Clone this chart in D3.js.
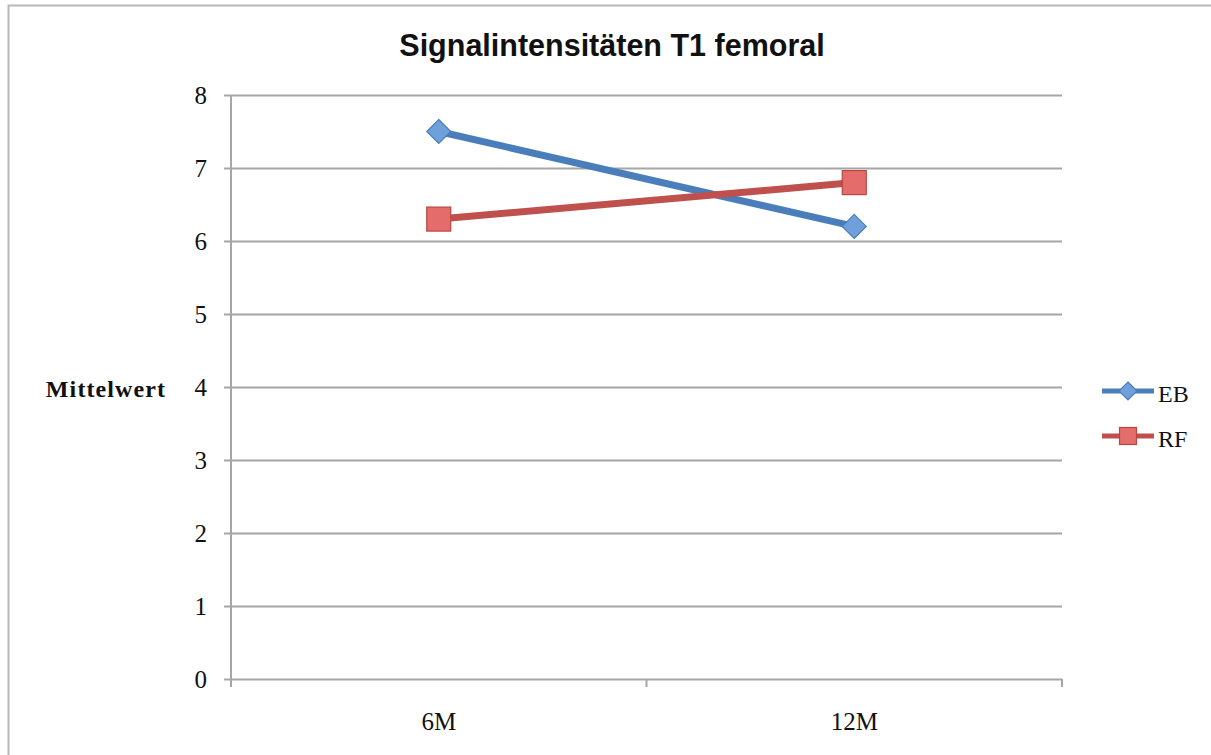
<!DOCTYPE html>
<html>
<head>
<meta charset="utf-8">
<script src="https://cdn.jsdelivr.net/npm/d3@7"></script>
<style>
  html, body { margin: 0; padding: 0; background: #fff; }
  svg { display: block; }
</style>
</head>
<body>
<svg id="chart" width="1211" height="755"></svg>
<script>
// Chart data
const categories = ["6M", "12M"];
const seriesNames = ["EB", "RF"];
const ebValues = [7.5, 6.2];
const rfValues = [6.3, 6.8];
const yTicks = [0, 1, 2, 3, 4, 5, 6, 7, 8];

const series = [
  { name: seriesNames[0], values: ebValues, color: "#4a7ebb", fill: "#6fa0dc", stroke: "#4a7ebb", shape: "diamond" },
  { name: seriesNames[1], values: rfValues, color: "#c0504d", fill: "#e46c6a", stroke: "#b94643", shape: "square" }
];

const serif = "'Liberation Serif', 'DejaVu Serif', serif";

const svg = d3.select("#chart");
const W = 1211, H = 755;
const plot = { left: 231, right: 1062, top: 95, bottom: 679 };

// Outer frame
svg.append("rect")
  .attr("x", 8.5).attr("y", 5.5)
  .attr("width", W + 10).attr("height", H + 10)
  .attr("fill", "none").attr("stroke", "#b8b8b8").attr("stroke-width", 2);

const x = d3.scaleBand().domain(categories).range([plot.left, plot.right]);
const y = d3.scaleLinear().domain([0, 8]).range([plot.bottom, plot.top]);

// Gridlines
svg.append("g")
  .selectAll("line")
  .data(yTicks)
  .join("line")
  .attr("x1", plot.left).attr("x2", plot.right)
  .attr("y1", d => Math.round(y(d)) + 0.5).attr("y2", d => Math.round(y(d)) + 0.5)
  .attr("stroke", "#a6a6a6").attr("stroke-width", 2);

// Y axis
const yAxis = svg.append("g")
  .attr("transform", `translate(${plot.left},0)`)
  .call(d3.axisLeft(y).tickValues(yTicks).tickSize(7).tickPadding(17).tickFormat(d3.format("d")));
yAxis.select(".domain").attr("stroke", "#a6a6a6").attr("stroke-width", 2).attr("d", `M0,${plot.top}V${plot.bottom}`);
yAxis.selectAll(".tick line").attr("stroke", "#a6a6a6").attr("stroke-width", 2);
yAxis.selectAll("text")
  .attr("font-family", serif)
  .attr("font-size", 25).attr("fill", "#111");

// X axis
const xAxis = svg.append("g")
  .attr("transform", `translate(0,${plot.bottom})`)
  .call(d3.axisBottom(x).tickSize(0).tickPadding(33));
xAxis.select(".domain").remove();
xAxis.selectAll("text")
  .attr("font-family", serif)
  .attr("font-size", 25).attr("fill", "#111");

// Category boundary ticks on the x axis
const boundaries = [plot.left, ...categories.map(c => x(c) + x.bandwidth())];
svg.append("g")
  .selectAll("line")
  .data(boundaries)
  .join("line")
  .attr("x1", d => d).attr("x2", d => d)
  .attr("y1", plot.bottom).attr("y2", plot.bottom + 8)
  .attr("stroke", "#a6a6a6").attr("stroke-width", 2);

// Y axis title
svg.append("text")
  .attr("x", 106).attr("y", y(4) + 10)
  .attr("text-anchor", "middle")
  .attr("font-family", serif)
  .attr("font-weight", "bold").attr("font-size", 24).attr("letter-spacing", 1.1).attr("fill", "#111")
  .text("Mittelwert");

// Title
svg.append("text")
  .attr("x", 612).attr("y", 56)
  .attr("text-anchor", "middle")
  .attr("font-family", "'Liberation Sans', Arial, sans-serif")
  .attr("font-weight", "bold").attr("font-size", 30.5).attr("fill", "#111")
  .text("Signalintensitäten T1 femoral");

const cx = c => x(c) + x.bandwidth() / 2;
const line = d3.line().x((d, i) => cx(categories[i])).y(d => y(d));

function drawMarker(g, shape, px, py, s, fill, stroke) {
  if (shape === "diamond") {
    g.append("path")
      .attr("d", `M${px},${py - s}L${px + s},${py}L${px},${py + s}L${px - s},${py}Z`)
      .attr("fill", fill).attr("stroke", stroke).attr("stroke-width", 1.2);
  } else {
    g.append("rect")
      .attr("x", px - s).attr("y", py - s).attr("width", 2 * s).attr("height", 2 * s)
      .attr("fill", fill).attr("stroke", stroke).attr("stroke-width", 1.2);
  }
}

// Series lines and markers
series.forEach(s => {
  const g = svg.append("g");
  g.append("path")
    .datum(s.values)
    .attr("d", line)
    .attr("fill", "none").attr("stroke", s.color).attr("stroke-width", 7)
    .attr("stroke-linecap", "butt");
  s.values.forEach((v, i) => {
    drawMarker(g, s.shape, cx(categories[i]), y(v), 12, s.fill, s.stroke);
  });
});

// Legend
const legend = svg.append("g");
series.forEach((s, i) => {
  const ly = 391 + i * 45;
  legend.append("line")
    .attr("x1", 1102).attr("x2", 1154).attr("y1", ly).attr("y2", ly)
    .attr("stroke", s.color).attr("stroke-width", 5);
  drawMarker(legend, s.shape, 1128, ly, s.shape === "diamond" ? 9 : 8.5, s.fill, s.stroke);
  legend.append("text")
    .attr("x", 1158).attr("y", ly + 11)
    .attr("font-family", serif)
    .attr("font-size", 24).attr("fill", "#111")
    .text(s.name);
});
</script>
</body>
</html>
